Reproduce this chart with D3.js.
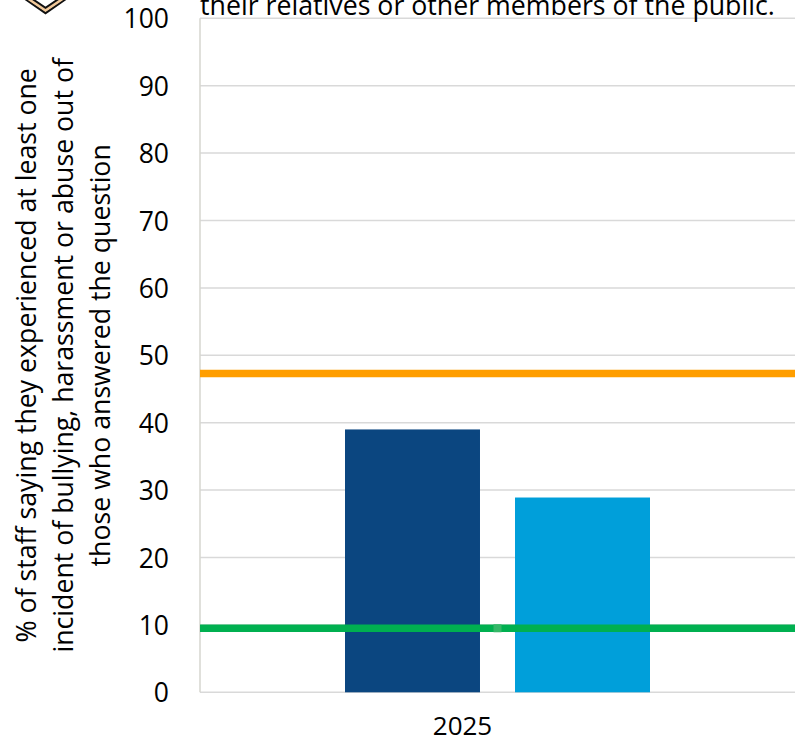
<!DOCTYPE html>
<html>
<head>
<meta charset="utf-8">
<script src="https://cdn.jsdelivr.net/npm/d3@7"></script>
<style>
  html, body { margin: 0; padding: 0; background: #fff; }
  svg { display: block; font-family: "Open Sans", "Noto Sans", sans-serif; }
</style>
</head>
<body>
<svg id="chart" width="795" height="742"></svg>
<script>
// ---- data ----
const categories = ["2025"];
const seriesNames = ["Organisation", "Average"];
const seriesValues = [39.0, 28.9];
const seriesColors = ["#0b4680", "#009fda"];
const refLineNames = ["Worst", "Best"];
const refLineValues = [47.3, 9.5];
const refLineColors = ["#ff9e00", "#00b050"];
const yTicks = [0, 10, 20, 30, 40, 50, 60, 70, 80, 90, 100];
const yTitleLines = [
  "% of staff saying they experienced at least one",
  "incident of bullying, harassment or abuse out of",
  "those who answered the question"
];
const topText = "their relatives or other members of the public.";

// ---- layout ----
const W = 795, H = 742;
const plot = { left: 200, right: 795, top: 18.3, bottom: 692.3 };
const svg = d3.select("#chart");

const y = d3.scaleLinear().domain([0, 100]).range([plot.bottom, plot.top]);
const x0 = d3.scaleBand().domain(categories).range([plot.left, plot.right])
  .paddingInner(0).paddingOuter(0.4754);
const x1 = d3.scaleBand().domain(seriesNames).range([0, x0.bandwidth()])
  .paddingInner(0.206).paddingOuter(0);

// gridlines
svg.append("g").selectAll("line").data(yTicks).join("line")
  .attr("x1", plot.left).attr("x2", plot.right)
  .attr("y1", d => y(d)).attr("y2", d => y(d))
  .attr("stroke", "#d9d9d9").attr("stroke-width", 1.5);

// left axis line
svg.append("line")
  .attr("x1", plot.left).attr("x2", plot.left)
  .attr("y1", y(100)).attr("y2", y(0))
  .attr("stroke", "#d6d6cf").attr("stroke-width", 1.5);

// y tick labels via axis
const yAxis = d3.axisLeft(y).tickValues(yTicks).tickSize(0).tickPadding(0);
const gy = svg.append("g").attr("transform", `translate(169,0)`).call(yAxis);
gy.select(".domain").remove();
gy.selectAll("text").attr("font-size", 26.5).attr("fill", "#000")
  .attr("font-family", "Open Sans").attr("dy", "0.36em");

// bars
const groups = svg.append("g").selectAll("g").data(categories).join("g")
  .attr("transform", d => `translate(${x0(d)},0)`);
groups.selectAll("rect")
  .data(() => seriesNames.map((n, i) => ({ n, v: seriesValues[i], c: seriesColors[i] })))
  .join("rect")
  .attr("x", d => x1(d.n))
  .attr("width", x1.bandwidth())
  .attr("y", d => y(d.v))
  .attr("height", d => y(0) - y(d.v))
  .attr("fill", d => d.c);

// reference lines
svg.append("g").selectAll("line").data(refLineValues).join("line")
  .attr("x1", plot.left).attr("x2", plot.right)
  .attr("y1", d => y(d)).attr("y2", d => y(d))
  .attr("stroke", (d, i) => refLineColors[i]).attr("stroke-width", 7.5);

// small marker on green line at category center
svg.append("rect")
  .attr("x", x0(categories[0]) + x0.bandwidth() / 2 - 4)
  .attr("y", y(refLineValues[1]) - 4)
  .attr("width", 8).attr("height", 8)
  .attr("fill", "#35b868");

// x category label
svg.append("g").selectAll("text").data(categories).join("text")
  .attr("x", d => x0(d) + x0.bandwidth() / 2 - 35)
  .attr("y", 735)
  .attr("text-anchor", "middle")
  .attr("font-size", 26)
  .attr("fill", "#000")
  .text(d => d);

// y axis title (rotated, 3 lines)
const titleTargets = [575, 595, 422];
const tmp = svg.append("text").attr("font-size", 26).text(yTitleLines[1]);
const natural = tmp.node().getComputedTextLength();
tmp.remove();
const titleSize = 26 * titleTargets[1] / natural;
const titleX = [35.5, 72.5, 109.5];
const yc = (plot.top + plot.bottom) / 2;
yTitleLines.forEach((t, i) => {
  svg.append("text")
    .attr("transform", `translate(${titleX[i]},${yc}) rotate(-90)`)
    .attr("text-anchor", "middle")
    .attr("font-size", titleSize)
    .attr("fill", "#000")
    .text(t);
});

// top (clipped) title text
const tmp2 = svg.append("text").attr("font-size", 26).text(topText);
const nat2 = tmp2.node().getComputedTextLength();
tmp2.remove();
svg.append("text")
  .attr("x", 200).attr("y", 15)
  .attr("font-size", 26 * 575 / nat2)
  .attr("fill", "#000")
  .text(topText);

// clipped logo chevron at top-left
const logo = svg.append("g");
logo.append("path").attr("d", "M24,-2 L45.5,13 L67,-2")
  .attr("fill", "none").attr("stroke", "#111").attr("stroke-width", 2.4);
logo.append("path").attr("d", "M27.5,-2 L45.5,10.3 L63.5,-2")
  .attr("fill", "none").attr("stroke", "#f2c99a").attr("stroke-width", 3);
logo.append("path").attr("d", "M31,-2 L45.5,7.8 L60,-2")
  .attr("fill", "none").attr("stroke", "#111").attr("stroke-width", 2);
</script>
</body>
</html>
